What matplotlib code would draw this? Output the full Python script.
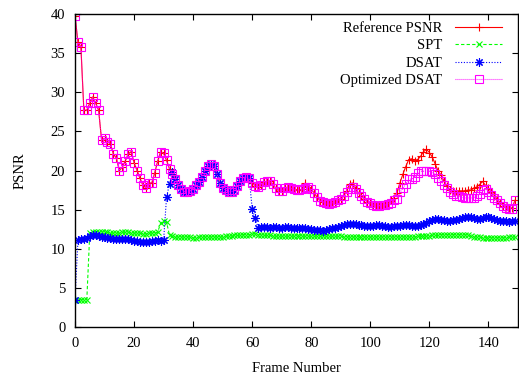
import matplotlib
matplotlib.use("Agg")
import matplotlib.pyplot as plt
import numpy as np

frames = list(range(150))

optimized_dsat = [
    39.8, 36.4, 35.8, 27.7, 27.7, 28.6, 29.4, 28.6, 27.7, 23.9,
    24.1, 23.7, 23.4, 22.1, 21.6, 20.0, 20.4, 21.2, 22.1, 22.4,
    21.0, 20.0, 19.0, 18.1, 17.8, 18.4, 18.4, 19.7, 21.2, 22.4,
    22.2, 21.3, 20.2, 19.6, 18.9, 18.1, 17.6, 17.3, 17.3, 17.4,
    17.6, 18.1, 18.5, 19.2, 20.0, 20.6, 20.8, 20.6, 19.6, 18.4,
    17.8, 17.5, 17.3, 17.3, 17.5, 18.0, 18.6, 19.1, 19.2, 19.0,
    18.4, 18.0, 17.9, 18.2, 18.5, 18.6, 18.6, 18.3, 17.7, 17.4,
    17.4, 17.7, 17.9, 17.7, 17.6, 17.5, 17.5, 17.6, 17.8, 17.9,
    17.6, 17.1, 16.6, 16.1, 16.0, 15.9, 15.7, 15.8, 16.0, 16.2,
    16.3, 16.7, 17.2, 17.6, 17.9, 17.6, 17.1, 16.7, 16.3, 16.0,
    15.8, 15.6, 15.5, 15.5, 15.6, 15.6, 15.7, 15.9, 16.2, 16.4,
    17.2, 17.7, 18.3, 18.9, 18.9, 19.2, 19.7, 19.9, 19.9, 19.9,
    19.9, 19.8, 19.5, 19.0, 18.6, 18.2, 17.8, 17.3, 17.0, 16.8,
    16.7, 16.6, 16.5, 16.5, 16.5, 16.5, 16.7, 17.0, 17.5, 17.6,
    17.3, 16.9, 16.5, 16.2, 15.8, 15.5, 15.2, 15.1, 15.1, 16.2,
]

reference_psnr = [
    39.8, 36.4, 35.8, 27.7, 27.7, 28.6, 29.4, 28.6, 27.7, 23.9,
    24.1, 23.7, 23.4, 22.1, 21.6, 20.0, 20.4, 21.2, 22.1, 22.4,
    21.0, 20.0, 19.0, 18.1, 17.8, 18.4, 18.4, 19.7, 21.2, 22.4,
    22.2, 21.3, 20.2, 19.6, 18.9, 18.1, 17.6, 17.3, 17.3, 17.4,
    17.6, 18.1, 18.5, 19.2, 20.0, 20.6, 20.8, 20.6, 19.6, 18.4,
    17.8, 17.5, 17.3, 17.3, 17.5, 18.0, 18.6, 19.1, 19.2, 19.0,
    18.4, 18.0, 17.9, 18.2, 18.5, 18.6, 18.6, 18.3, 17.7, 17.4,
    17.4, 17.7, 17.9, 17.7, 17.6, 17.5, 17.5, 17.6, 18.4, 17.9,
    17.6, 17.1, 16.6, 16.1, 16.0, 15.9, 15.7, 15.8, 16.0, 16.2,
    16.3, 16.8, 17.4, 18.3, 18.4, 17.8, 17.1, 16.7, 16.3, 16.0,
    15.8, 15.6, 15.5, 15.5, 15.6, 15.7, 15.8, 16.2, 16.5, 17.1,
    18.4, 19.5, 20.5, 21.4, 21.5, 21.2, 21.4, 21.8, 22.4, 22.7,
    22.3, 21.7, 20.8, 19.9, 19.4, 18.6, 18.0, 17.5, 17.4, 17.4,
    17.4, 17.4, 17.4, 17.5, 17.5, 17.7, 17.9, 18.2, 18.6, 18.1,
    17.7, 17.3, 16.8, 16.3, 15.9, 15.5, 15.3, 15.2, 15.2, 16.2,
]

dsat = [
    3.5, 11.1, 11.2, 11.3, 11.4, 11.6, 11.7, 11.7, 11.6, 11.5,
    11.5, 11.4, 11.4, 11.3, 11.3, 11.3, 11.3, 11.2, 11.2, 11.1,
    11.0, 11.0, 10.9, 10.9, 10.8, 10.9, 11.0, 11.0, 11.1, 11.0,
    11.1, 16.6, 18.3, 19.8, 18.9, 18.1, 17.6, 17.3, 17.3, 17.4,
    17.6, 18.1, 18.5, 19.2, 20.0, 20.6, 20.8, 20.6, 19.6, 18.4,
    17.8, 17.5, 17.3, 17.3, 17.5, 18.0, 18.6, 19.1, 19.2, 19.0,
    15.1, 13.9, 12.7, 12.8, 12.8, 12.8, 12.7, 12.8, 12.8, 12.7,
    12.7, 12.8, 12.8, 12.7, 12.7, 12.7, 12.6, 12.6, 12.6, 12.5,
    12.5, 12.4, 12.4, 12.4, 12.3, 12.4, 12.5, 12.6, 12.7, 12.8,
    12.9, 13.0, 13.1, 13.1, 13.2, 13.1, 13.0, 13.0, 12.9, 12.9,
    12.9, 12.9, 13.0, 13.0, 12.9, 12.9, 12.8, 12.8, 12.9, 12.9,
    12.9, 13.0, 13.0, 13.0, 12.9, 12.9, 12.9, 13.0, 13.1, 13.3,
    13.5, 13.7, 13.8, 13.8, 13.7, 13.7, 13.6, 13.6, 13.7, 13.7,
    13.8, 13.9, 14.0, 14.0, 14.0, 13.9, 13.8, 13.8, 13.9, 14.0,
    14.0, 13.9, 13.8, 13.7, 13.6, 13.5, 13.5, 13.4, 13.5, 13.5,
]

spt = [
    3.5, 3.5, 3.5, 3.5, 3.5, 12.0, 12.1, 12.2, 12.2, 12.2,
    12.1, 12.1, 12.0, 12.0, 12.0, 12.0, 12.1, 12.1, 12.1, 12.0,
    12.0, 12.0, 12.0, 11.9, 11.9, 12.0, 12.0, 12.0, 12.1, 13.3,
    13.5, 13.4, 11.7, 11.6, 11.5, 11.5, 11.5, 11.5, 11.5, 11.5,
    11.4, 11.4, 11.5, 11.5, 11.5, 11.5, 11.5, 11.5, 11.5, 11.5,
    11.5, 11.6, 11.6, 11.6, 11.7, 11.7, 11.7, 11.8, 11.8, 11.8,
    11.9, 11.9, 11.8, 11.8, 11.7, 11.7, 11.7, 11.6, 11.6, 11.6,
    11.6, 11.6, 11.6, 11.6, 11.6, 11.6, 11.6, 11.6, 11.6, 11.6,
    11.6, 11.6, 11.6, 11.6, 11.6, 11.6, 11.6, 11.6, 11.6, 11.6,
    11.6, 11.5, 11.5, 11.5, 11.5, 11.5, 11.5, 11.5, 11.5, 11.5,
    11.5, 11.5, 11.5, 11.5, 11.5, 11.5, 11.5, 11.5, 11.5, 11.5,
    11.5, 11.5, 11.5, 11.5, 11.5, 11.5, 11.6, 11.6, 11.6, 11.6,
    11.6, 11.7, 11.7, 11.7, 11.8, 11.8, 11.8, 11.8, 11.8, 11.8,
    11.8, 11.8, 11.8, 11.7, 11.6, 11.5, 11.5, 11.5, 11.4, 11.4,
    11.4, 11.4, 11.4, 11.4, 11.4, 11.4, 11.4, 11.5, 11.5, 11.5,
]

series_labels = ["Reference PSNR", "SPT", "DSAT", "Optimized DSAT"]
x_ticks = [0, 20, 40, 60, 80, 100, 120, 140]
y_ticks = [0, 5, 10, 15, 20, 25, 30, 35, 40]

plt.rcParams['font.family'] = ['Liberation Serif', 'DejaVu Serif']
plt.rcParams['font.size'] = 10.5

fig = plt.figure(figsize=(5.19, 3.77), dpi=100)
ax = fig.add_axes([75/519, 1 - 327/377, (518 - 75)/519, (327 - 14)/377])

lw = 0.8
ax.plot(frames, reference_psnr, color='#ff0000', linestyle='-', linewidth=lw,
        marker='+', markersize=6, markeredgewidth=0.8, label=series_labels[0])
ax.plot(frames, spt, color='#00ff00', linestyle=(0, (3, 2)), linewidth=lw,
        marker='x', markersize=5, markeredgewidth=0.8, label=series_labels[1])
ax.plot(frames, dsat, color='#0000ff', linestyle=(0, (1, 1.5)), linewidth=lw,
        marker=(8, 2, 0), markersize=6, markeredgewidth=0.8, label=series_labels[2])
ax.plot(frames, optimized_dsat, color='#ff00ff', linestyle=(0, (0.8, 1)), linewidth=lw,
        marker='s', markersize=5.8, markerfacecolor='none', markeredgewidth=0.8,
        label=series_labels[3])

ax.set_xlim(0, 150)
ax.set_ylim(0, 40)
ax.set_xticks(x_ticks)
ax.set_yticks(y_ticks)
ax.tick_params(direction='in', top=True, right=True, length=4, width=0.8, pad=7)
for s in ax.spines.values():
    s.set_linewidth(1.0)

ax.set_xlabel("Frame Number", labelpad=9)
ax.set_ylabel("PSNR", labelpad=17)

leg = ax.legend(loc='upper right', bbox_to_anchor=(0.99, 1.012), frameon=False,
                markerfirst=False, handlelength=3.2, handletextpad=0.9,
                labelspacing=0.28, borderpad=0.3, numpoints=1)

fig.savefig("out.png", dpi=100)
